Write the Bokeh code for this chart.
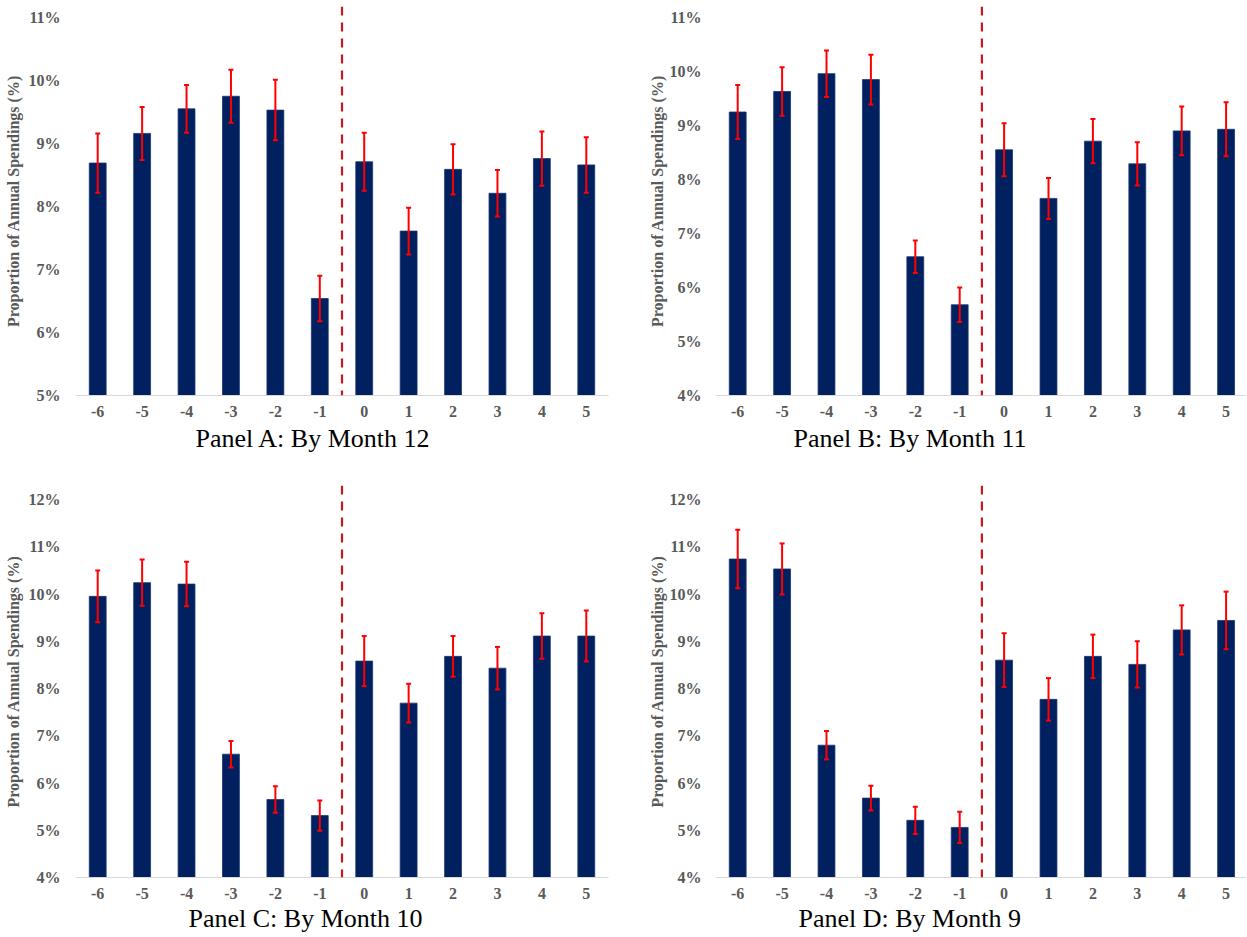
from bokeh.plotting import figure
from bokeh.models import (ColumnDataSource, Whisker, TeeHead, Span, Title,
                          FixedTicker, PrintfTickFormatter, Range1d)
from bokeh.layouts import column, row
from bokeh.embed import file_html
from bokeh.resources import INLINE

# ---------------- data ----------------
months = [-6, -5, -4, -3, -2, -1, 0, 1, 2, 3, 4, 5]
month_labels = ["-6", "-5", "-4", "-3", "-2", "-1", "0", "1", "2", "3", "4", "5"]

a_vals = [8.69, 9.16, 9.55, 9.75, 9.53, 6.54, 8.71, 7.61, 8.59, 8.21, 8.76, 8.66]
a_errs = [0.47, 0.42, 0.38, 0.42, 0.48, 0.36, 0.46, 0.37, 0.40, 0.37, 0.43, 0.44]

b_vals = [9.25, 9.63, 9.96, 9.85, 6.57, 5.68, 8.55, 7.65, 8.71, 8.29, 8.90, 8.93]
b_errs = [0.50, 0.45, 0.43, 0.46, 0.30, 0.32, 0.49, 0.38, 0.41, 0.40, 0.45, 0.50]

c_vals = [9.95, 10.24, 10.21, 6.61, 5.65, 5.31, 8.58, 7.69, 8.68, 8.43, 9.11, 9.11]
c_errs = [0.55, 0.49, 0.47, 0.28, 0.28, 0.32, 0.53, 0.41, 0.43, 0.45, 0.48, 0.54]

d_vals = [10.74, 10.53, 6.80, 5.68, 5.21, 5.06, 8.60, 7.77, 8.68, 8.51, 9.24, 9.44]
d_errs = [0.62, 0.54, 0.30, 0.26, 0.29, 0.33, 0.57, 0.45, 0.46, 0.49, 0.52, 0.61]

a_ticks = [5, 6, 7, 8, 9, 10, 11]
b_ticks = [4, 5, 6, 7, 8, 9, 10, 11]
cd_ticks = [4, 5, 6, 7, 8, 9, 10, 11, 12]

titles = ["Panel A: By Month 12", "Panel B:  By Month 11",
          "Panel C:  By Month 10", "Panel D:  By Month 9"]
y_label = "Proportion of Annual Spendings (%)"

SERIF = "Liberation Serif"
GRAY = "#595959"
NAVY = "#002060"


def make_panel(vals, errs, yticks, y_start, y_end, x_end, title, title_offset,
               title_standoff, width, height, mb_left, mb_right, mb_top, mb_bottom,
               tick_standoff, label_standoff):
    p = figure(width=width, height=height, output_backend="svg",
               toolbar_location=None, x_range=Range1d(-6.5, x_end),
               y_range=Range1d(y_start, y_end),
               min_border_left=mb_left, min_border_right=mb_right,
               min_border_top=mb_top, min_border_bottom=mb_bottom)
    p.outline_line_color = None
    p.grid.visible = False
    p.background_fill_color = "white"

    src = ColumnDataSource(dict(
        x=months, top=vals,
        upper=[v + e for v, e in zip(vals, errs)],
        lower=[v - e for v, e in zip(vals, errs)],
    ))
    p.vbar(x="x", top="top", bottom=y_start, width=0.38, source=src,
           fill_color=NAVY, line_color="#1a3670", line_width=0.8)

    w = Whisker(source=src, base="x", upper="upper", lower="lower",
                line_color="#ff0000", line_width=2, level="overlay",
                upper_head=TeeHead(size=5, line_color="#ff0000", line_width=2),
                lower_head=TeeHead(size=5, line_color="#ff0000", line_width=2))
    p.add_layout(w)

    p.add_layout(Span(location=-0.5, dimension="height", line_color="#C8161E",
                      line_width=2.2, line_dash="9 7"))

    # x axis
    xa = p.xaxis[0]
    xa.ticker = FixedTicker(ticks=months)
    xa.major_label_overrides = dict(zip(months, month_labels))
    xa.axis_line_color = "#d9d9d9"
    xa.axis_line_width = 1
    xa.major_tick_line_color = None
    xa.minor_tick_line_color = None
    xa.major_tick_out = 0
    xa.major_tick_in = 0
    xa.minor_tick_out = 0
    xa.major_label_text_font = SERIF
    xa.major_label_text_font_style = "bold"
    xa.major_label_text_font_size = "16px"
    xa.major_label_text_color = GRAY
    xa.major_label_standoff = 10

    # y axis
    ya = p.yaxis[0]
    ya.ticker = FixedTicker(ticks=yticks)
    ya.formatter = PrintfTickFormatter(format="%d%%")
    ya.axis_line_color = None
    ya.major_tick_line_color = None
    ya.minor_tick_line_color = None
    ya.major_tick_out = 0
    ya.major_tick_in = 0
    ya.minor_tick_out = 0
    ya.major_label_text_font = SERIF
    ya.major_label_text_font_style = "bold"
    ya.major_label_text_font_size = "16px"
    ya.major_label_text_color = GRAY
    ya.major_label_standoff = tick_standoff
    ya.axis_label = y_label
    ya.axis_label_text_font = SERIF
    ya.axis_label_text_font_style = "bold"
    ya.axis_label_text_font_size = "16px"
    ya.axis_label_text_color = GRAY
    ya.axis_label_standoff = label_standoff

    # panel caption below the chart
    p.add_layout(Title(text=title, align="left", offset=title_offset,
                       text_font=SERIF, text_font_style="normal",
                       text_font_size="26px", text_color="black",
                       standoff=title_standoff), "below")
    return p


pA = make_panel(a_vals, a_errs, a_ticks, 5, 5 + 389 / 63.0, 5.5,
                titles[0], 120, 5,
                623, 470, 75, 15, 6, 75, 15, 4)
pB = make_panel(b_vals, b_errs, b_ticks, 4, 4 + 389 / 54.0, -6.5 + 531 / 44.4,
                titles[1], 78, 5,
                623, 470, 92, 0, 6, 75, 14, 1)
pC = make_panel(c_vals, c_errs, cd_ticks, 4, 4 + 392 / 47.25, 5.5,
                titles[2], 113, 1,
                623, 466, 75, 15, 15, 59, 15, 4)
pD = make_panel(d_vals, d_errs, cd_ticks, 4, 4 + 392 / 47.25, -6.5 + 531 / 44.4,
                titles[3], 83, 1,
                623, 466, 92, 0, 15, 59, 14, 1)

layout = column(row(pA, pB), row(pC, pD))

open("out.html", "w").write(file_html(layout, INLINE))
